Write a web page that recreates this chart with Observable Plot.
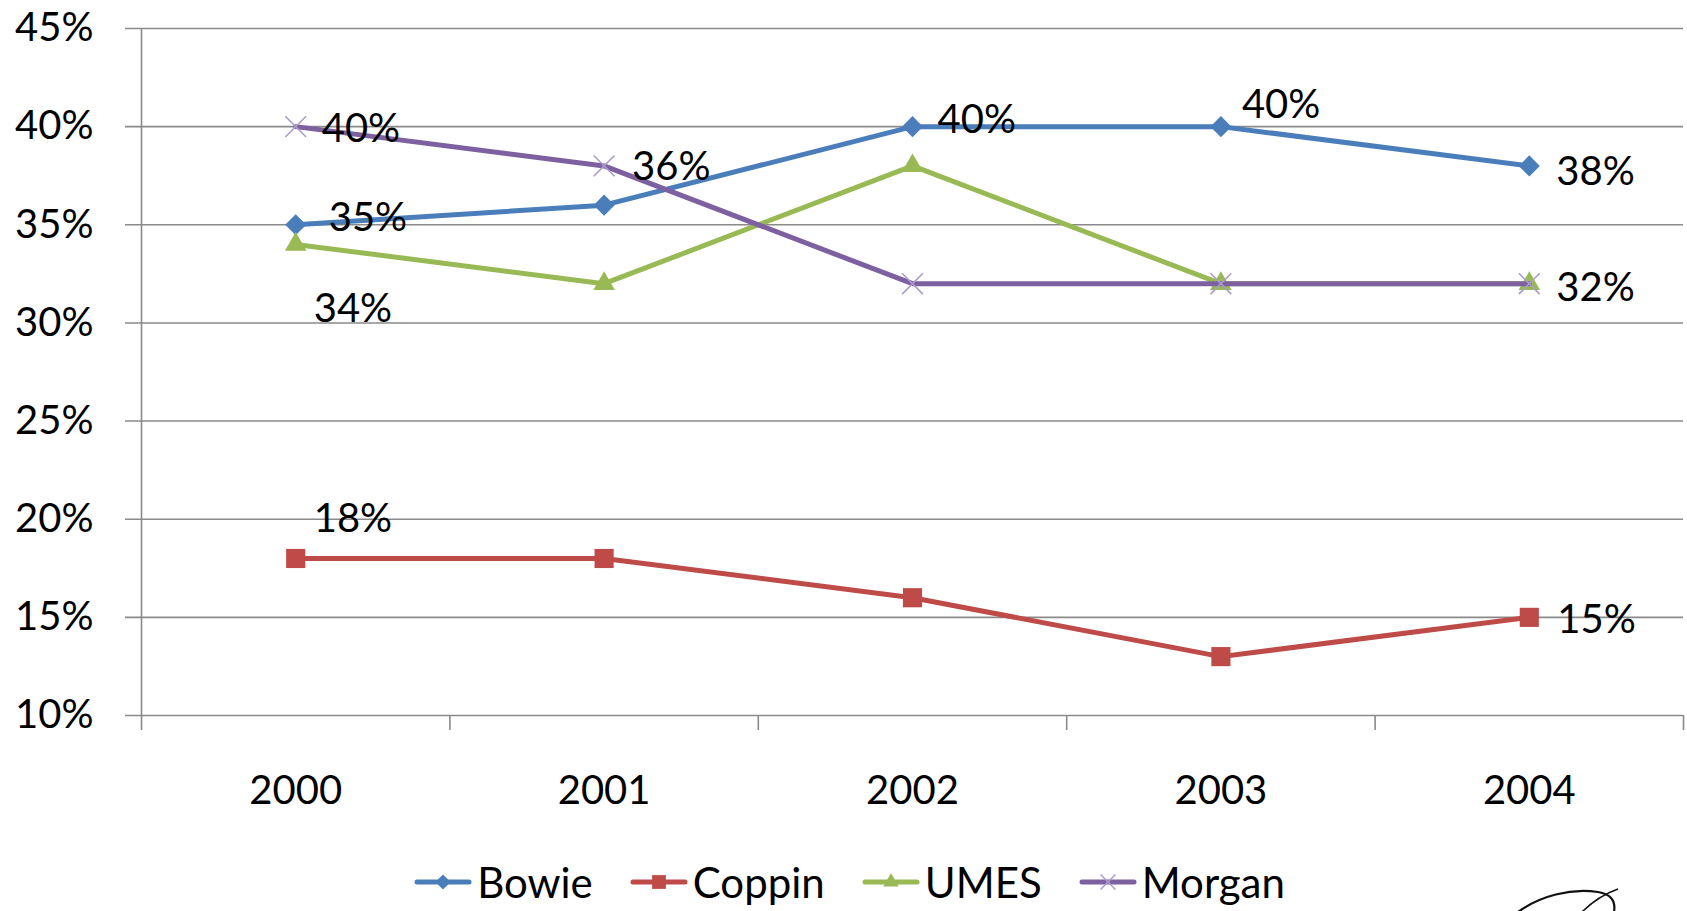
<!DOCTYPE html>
<html>
<head>
<meta charset="utf-8">
<script src="https://cdn.jsdelivr.net/npm/d3@7"></script>
<script src="https://cdn.jsdelivr.net/npm/@observablehq/plot@0.6"></script>
<style>
  html, body { margin: 0; padding: 0; background: #fff; }
  #wrap { position: relative; width: 1687px; height: 911px; overflow: hidden; font-family: Lato, sans-serif; }
  #chart svg { display: block; }
  #legend { display: flex; justify-content: center; align-items: center; gap: 38px; margin-top: 11px; height: 42px; line-height: 42px; font-size: 42px; padding-left: 0; width: 1700px; }
  .item { display: flex; align-items: center; }
  .item span { margin-left: 6px; }
  #logo { position: absolute; left: 0; top: 0; pointer-events: none; }
</style>
</head>
<body>
<div id="wrap">
  <div id="chart"></div>
  <div id="legend"></div>
  <svg id="logo" width="1687" height="911"></svg>
</div>
<script>
// ---- data ----
const years = [2000, 2001, 2002, 2003, 2004];
const seriesNames = ["Bowie", "Coppin", "UMES", "Morgan"];
const bowie  = [35, 36, 40, 40, 38];
const coppin = [18, 18, 16, 13, 15];
const umes   = [34, 32, 38, 32, 32];
const morgan = [40, 38, 32, 32, 32];
const yTicks = [10, 15, 20, 25, 30, 35, 40, 45];
const labelledPoints = [
  ["Morgan", 2000], ["Bowie", 2000], ["UMES", 2000], ["Coppin", 2000],
  ["Bowie", 2001], ["Bowie", 2002], ["Bowie", 2003], ["Bowie", 2004],
  ["UMES", 2004], ["Coppin", 2004]
];

// ---- styles ----
const seriesValues = {Bowie: bowie, Coppin: coppin, UMES: umes, Morgan: morgan};
const styles = {
  Bowie:  {color: "#4a7ebb", symbol: "diamond2", r: 9.5,  fill: true},
  Coppin: {color: "#be4b48", symbol: "square",   r: 10.8, fill: true},
  UMES:   {color: "#98b954", symbol: "triangle", r: 8, fill: true},
  Morgan: {color: "#7d60a0", symbol: "times",    r: 9.5,  fill: false, markColor: "#ab9ccb"}
};
const labelOffsets = {
  "Morgan-2000": [26, 3], "Bowie-2000": [33, -7], "UMES-2000": [18, 65], "Coppin-2000": [18, -39],
  "Bowie-2001": [28, -38], "Bowie-2002": [25, -6], "Bowie-2003": [21, -21], "Bowie-2004": [27, 6],
  "UMES-2004": [27, 5], "Coppin-2004": [28, 3]
};
const gridColor = "#8a8a8a";

const rows = seriesNames.flatMap(s => years.map((yr, i) => ({series: s, year: yr, value: seriesValues[s][i]})));
const boundaries = d3.range(years.length + 1).map(i => years[0] - 0.5 + i);

const marks = [
  Plot.gridY(yTicks, {stroke: gridColor, strokeOpacity: 1, strokeWidth: 1.6, insetLeft: -16}),
  Plot.ruleX([boundaries[0]], {stroke: gridColor, strokeWidth: 1.6}),
  Plot.axisX({ticks: boundaries, tickSize: 15, tickFormat: () => "", label: null, stroke: gridColor, strokeWidth: 1.6, strokeOpacity: 1}),
  Plot.axisX({ticks: years, tickSize: 0, tickPadding: 60, tickFormat: "d", label: null, fontSize: 40, fill: "#000"}),
  Plot.axisY({ticks: yTicks, tickSize: 0, tickPadding: 48, tickFormat: d => d + "%", label: null, fontSize: 40, fill: "#000"})
];

for (const s of seriesNames) {
  const st = styles[s];
  const d = rows.filter(r => r.series === s);
  marks.push(Plot.line(d, {x: "year", y: "value", stroke: st.color, strokeWidth: 5}));
  if (st.fill) {
    marks.push(Plot.dot(d, {x: "year", y: "value", symbol: st.symbol, r: st.r, fill: st.color, stroke: "none"}));
  } else {
    marks.push(Plot.dot(d, {x: "year", y: "value", symbol: st.symbol, r: st.r, fill: "none", stroke: st.markColor, strokeWidth: 1.6}));
  }
}

for (const [s, yr] of labelledPoints) {
  const d = rows.filter(r => r.series === s && r.year === yr);
  const [dx, dy] = labelOffsets[s + "-" + yr];
  marks.push(Plot.text(d, {x: "year", y: "value", text: r => r.value + "%", textAnchor: "start", dx, dy, fontSize: 40, fill: "#000"}));
}

const chart = Plot.plot({
  width: 1687,
  height: 850,
  marginLeft: 141,
  marginRight: 4,
  marginTop: 28,
  marginBottom: 135,
  style: {fontFamily: "Lato, sans-serif", fontSize: "40px", color: "#000", background: "#fff"},
  x: {type: "linear", domain: [boundaries[0], boundaries[boundaries.length - 1]], label: null},
  y: {domain: [10, 45], label: null},
  marks
});
document.getElementById("chart").appendChild(chart);

// ---- legend ----
const legend = d3.select("#legend");
const symMap = {diamond2: d3.symbolDiamond2, square: d3.symbolSquare, triangle: d3.symbolTriangle, times: d3.symbolTimes};
for (const s of seriesNames) {
  const st = styles[s];
  const item = legend.append("div").attr("class", "item");
  const sv = item.append("svg").attr("width", 56).attr("height", 24).style("overflow", "visible");
  sv.append("line").attr("x1", 2).attr("x2", 54).attr("y1", 12).attr("y2", 12)
    .attr("stroke", st.color).attr("stroke-width", 5).attr("stroke-linecap", "round");
  const size = Math.PI * (st.r * 0.72) ** 2;
  const p = sv.append("path").attr("transform", "translate(28,12)")
    .attr("d", d3.symbol(symMap[st.symbol], size)());
  if (st.fill) p.attr("fill", st.color); else p.attr("fill", "none").attr("stroke", st.markColor).attr("stroke-width", 1.5);
  item.append("span").text(s);
}

// ---- partial logo glyph at bottom-right ----
const logo = d3.select("#logo");
logo.append("path").attr("d", "M1518,912 C1540,896 1570,888 1598,892 C1610,894 1616,900 1614,912")
  .attr("fill", "none").attr("stroke", "#111").attr("stroke-width", 2.2);
logo.append("path").attr("d", "M1582,912 C1592,902 1604,894 1618,889")
  .attr("fill", "none").attr("stroke", "#111").attr("stroke-width", 1.6);
</script>
</body>
</html>
